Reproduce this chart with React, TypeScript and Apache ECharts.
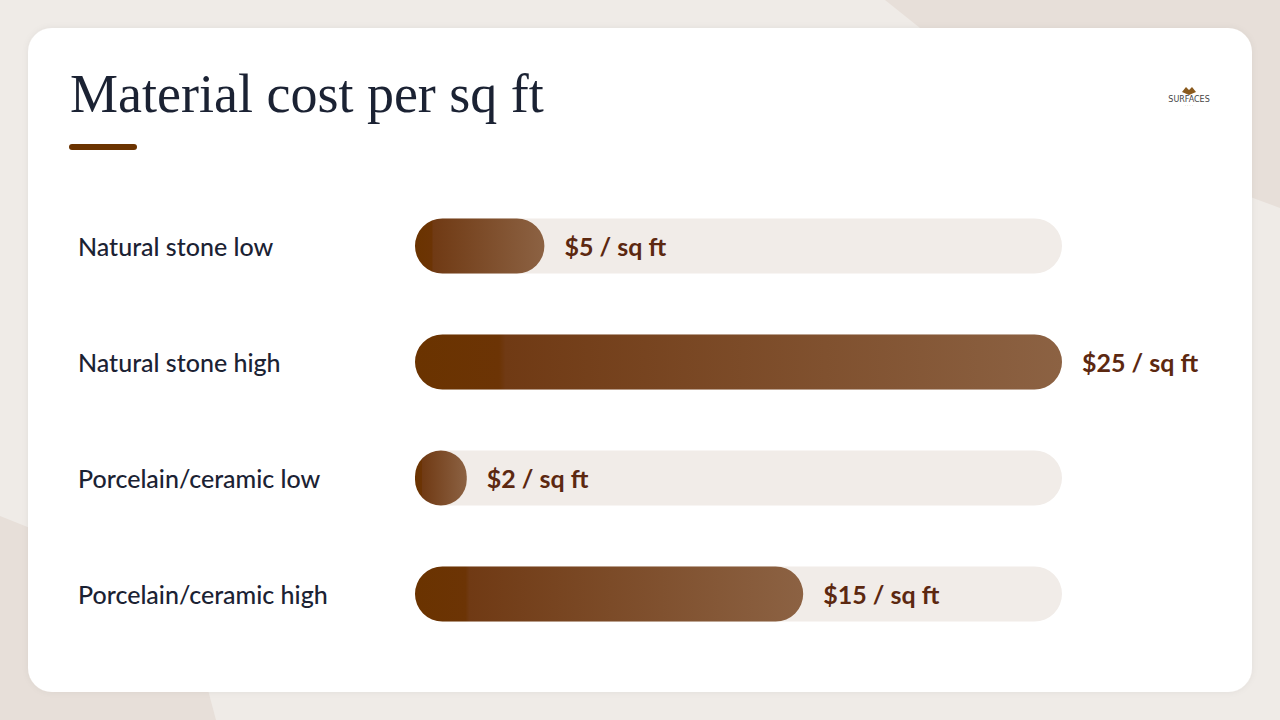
import React, { useEffect, useRef } from "react";
import * as echarts from "echarts";

const categories = ["Natural stone low", "Natural stone high", "Porcelain/ceramic low", "Porcelain/ceramic high"];
const values = [5, 25, 2, 15];
const axisMax = 25;
const titleText = "Material cost per sq ft";

export default function App() {
  const ref = useRef<HTMLDivElement>(null);
  useEffect(() => {
    if (!ref.current) return;
    const chart = echarts.init(ref.current, null, { renderer: "svg" });
    const grad = new echarts.graphic.LinearGradient(0, 0, 1, 0, [
      { offset: 0, color: "#6a3300" },
      { offset: 0.13, color: "#6c3405" },
      { offset: 0.14, color: "#703a14" },
      { offset: 1, color: "#8c6243" },
    ]);
    chart.setOption({
      animation: false,
      backgroundColor: "#efebe7",
      graphic: [
        { type: "polygon", z: -10, shape: { points: [[885, 0], [1280, 0], [1280, 208], [1150, 160], [960, 60]] }, style: { fill: "#e7dfd9" } },
        { type: "polygon", z: -10, shape: { points: [[0, 516], [60, 540], [160, 600], [200, 660], [216, 720], [0, 720]] }, style: { fill: "#e7dfd9" } },
        { type: "rect", z: -5, shape: { x: 28, y: 28, width: 1224, height: 664, r: 24 }, style: { fill: "#ffffff", shadowColor: "rgba(80,60,40,0.06)", shadowBlur: 6 } },
        { type: "text", left: 70, top: 67, style: { text: titleText, font: "400 54px 'Liberation Serif', serif", fill: "#1b2233" } },
        { type: "rect", shape: { x: 69, y: 144, width: 68, height: 6, r: 3 }, style: { fill: "#6b3300" } },
        { type: "polygon", shape: { points: [[1182, 92], [1186, 87], [1189, 90], [1192, 87], [1196, 92], [1189, 95]] }, style: { fill: "#8a5a1e" } },
        { type: "text", x: 1189, y: 99, style: { text: "SURFACES", font: "8px 'DejaVu Sans', sans-serif", fill: "#444", align: "center", verticalAlign: "middle" } },
        { type: "text", x: 1189, y: 105, style: { text: "· · · ·", font: "4px sans-serif", fill: "#8a5a1e", align: "center", verticalAlign: "middle" } },
      ],
      grid: { left: 415, width: 647, top: 188, height: 464 },
      xAxis: { type: "value", min: 0, max: axisMax, show: false },
      yAxis: {
        type: "category",
        data: categories,
        inverse: true,
        axisLine: { show: false },
        axisTick: { show: false },
        splitLine: { show: false },
        axisLabel: {
          margin: 337,
          align: "left",
          fontFamily: "Lato, sans-serif",
          fontSize: 25,
          fontWeight: 500,
          color: "#1b2233",
        },
      },
      series: [
        {
          type: "bar",
          data: values,
          barWidth: 55,
          showBackground: true,
          backgroundStyle: { color: "#f1ece8", borderRadius: 27.5 },
          itemStyle: { color: grad, borderRadius: 27.5 },
          label: {
            show: true,
            position: "right",
            distance: 20,
            formatter: (p: any) => `$${p.value} / sq ft`,
            fontFamily: "Lato, sans-serif",
            fontSize: 25,
            fontWeight: 700,
            color: "#5c2810",
          },
        },
      ],
    });
    return () => chart.dispose();
  }, []);
  return <div ref={ref} style={{ position: "fixed", left: 0, top: 0, width: 1280, height: 720 }} />;
}
